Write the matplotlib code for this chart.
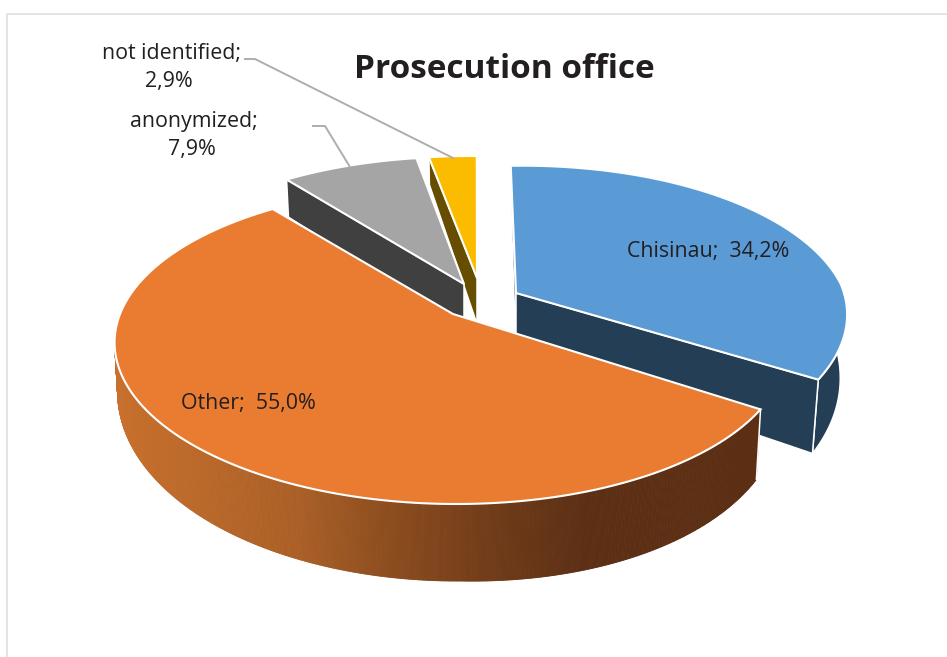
import numpy as np
import matplotlib
matplotlib.use("Agg")
import matplotlib.pyplot as plt
from matplotlib.patches import Polygon
from matplotlib.collections import PolyCollection

categories = ["Chisinau", "Other", "anonymized", "not identified"]
values = [34.2, 55.0, 7.9, 2.9]
title = "Prosecution office"

top_colors = ["#5B9BD5", "#EA7C32", "#A5A5A5", "#FBBC00"]
wall_colors = ["#233E55", None, "#404040", "#664D00"]
text_color = "#231F20"
FONT = "Open Sans"

# view geometry (pixels)
W, H = 947, 657
CX, CY = 453.0, 314.0
A, B, K, M = 328.0, 152.0, 0.196, 0.01
START = 1.0
OFFSET = [(63, -21), (0, 0), (11, -30), (24, -36)]
SCALE = [1.0, 1.005, 1.0, 0.96]
BACK_SKEW = [12.0, 6.0, 3.0, 6.0]
FRONT_SKEW = [0.0, 6.0, 6.0, 6.0]
LIFT = [9.0, 0.0, 0.0, 0.0]
DEPTH_CENTRE = [60.0, 37.0, 45.0, 46.0]
DEPTH_EXTRA = [4.0, 0.0, 12.0, 0.0]
FLOOR_SHIFT = [7.0, 5.0, 5.0, 5.0]

fig = plt.figure(figsize=(W / 100, H / 100), dpi=100, facecolor="white")
ax = fig.add_axes([0, 0, 1, 1])
ax.set_xlim(0, W)
ax.set_ylim(H, 0)
ax.axis("off")

# chart frame
ax.plot([7, 7, W], [H, 14, 14], color="#E2E2E2", lw=1.3, solid_capstyle="butt", zorder=0)


def rim(theta, i):
    t = np.radians(theta)
    c, s = np.cos(t), np.sin(t)
    w = 1 + K * c + M * s
    offset, sc = OFFSET[i], SCALE[i]
    skew = np.where(c > 0, BACK_SKEW[i], FRONT_SKEW[i])
    return (CX + offset[0] + sc * (A * s - skew * c) / w,
            CY + offset[1] - sc * (B * c + LIFT[i] * s) / w)


def rim_depth(theta):
    t = np.radians(theta)
    c, s = np.cos(t), np.sin(t)
    return np.where(c < 0, 42 - 35 * c + 10 * np.maximum(s, 0), 42 - 13 * c + 10 * s)


def floor(theta, i):
    x, y = rim(theta, i)
    s = np.sin(np.radians(theta))
    return x - np.where(s > 0, FLOOR_SHIFT[i], 3) * s, y + rim_depth(theta) + DEPTH_EXTRA[i]


def wall_gradient(x):
    stops = [117, 300, 390, 500, 585, 757]
    r = np.interp(x, stops, [200, 170, 140, 110, 92, 92])
    g = np.interp(x, stops, [112, 95, 76, 58, 47, 47])
    b = np.interp(x, stops, [45, 38, 30, 24, 20, 20])
    return np.column_stack([r, g, b]) / 255


shares = np.array(values) / sum(values) * 360
starts = START + np.concatenate([[0], np.cumsum(shares)[:-1]])
ends = starts + shares


def radial_wall(i, theta, z):
    off = OFFSET[i]
    ax_ = off[0] + CX, off[1] + CY
    rx, ry = rim(theta, i)
    fx, fy = floor(theta, i)
    ax.add_patch(Polygon([ax_, (rx, ry), (fx, fy), (ax_[0], ax_[1] + DEPTH_CENTRE[i])],
                         closed=True, facecolor=wall_colors[i], edgecolor="white",
                         lw=1.1, zorder=z, joinstyle="round"))


def outer_wall_solid(i, a0, a1, z):
    th = np.linspace(a0, a1, 80)
    rx, ry = rim(th, i)
    fx, fy = floor(th, i)
    pts = np.vstack([np.column_stack([rx, ry]), np.column_stack([fx, fy])[::-1]])
    ax.add_patch(Polygon(pts, closed=True, facecolor=wall_colors[i], edgecolor="white",
                         lw=1.1, zorder=z, joinstyle="round"))


def top(i, z):
    th = np.linspace(starts[i], ends[i], 160)
    rx, ry = rim(th, i)
    pts = np.vstack([[CX + OFFSET[i][0], CY + OFFSET[i][1]], np.column_stack([rx, ry])])
    ax.add_patch(Polygon(pts, closed=True, facecolor=top_colors[i], edgecolor="white",
                         lw=1.5, zorder=z, joinstyle="miter"))


# Chisinau
radial_wall(0, starts[0], 2)
outer_wall_solid(0, 85, ends[0], 2.1)
radial_wall(0, ends[0], 2.2)
top(0, 2.3)

# not identified
radial_wall(3, starts[3], 3)
top(3, 3.1)

# anonymized
radial_wall(2, starts[2], 4)
top(2, 4.1)

# Other: outer wall with a horizontal shading
th = np.linspace(starts[1], min(ends[1], 270), 500)
rx, ry = rim(th, 1)
fx, fy = floor(th, 1)
quads = [[(rx[j], ry[j]), (rx[j + 1], ry[j + 1]), (fx[j + 1], fy[j + 1]), (fx[j], fy[j])]
         for j in range(len(th) - 1)]
cols = wall_gradient((rx[:-1] + fx[:-1]) / 2)
ax.add_collection(PolyCollection(quads, facecolors=cols, edgecolors=cols, linewidths=0.6, zorder=5))
ax.plot(fx, fy, color="#E4E4E4", lw=0.8, zorder=4.9)
ax.plot([rx[0], fx[0]], [ry[0], fy[0]], color="white", lw=1.1, zorder=5.1)
top(1, 5.2)

# leader lines
lead = "#ADADAD"
ax.plot([245, 255, 453], [59, 59, 158], color=lead, lw=1.4, zorder=6)
ax.plot([313, 325, 350], [126, 126, 167], color=lead, lw=1.4, zorder=6)


def pct(v):
    return f"{v:.1f}".replace(".", ",") + "%"


fs = 15.4
txt = dict(family=FONT, color=text_color, fontsize=fs, ha="center", va="center", zorder=7)
ax.text(708, 251, f"{categories[0]};  {pct(values[0])}", **txt)
ax.text(248.5, 404, f"{categories[1]};  {pct(values[1])}", **txt)
ax.text(194, 121, f"{categories[2]};", **txt)
ax.text(192, 150, pct(values[2]), **txt)
ax.text(172, 53, f"{categories[3]};", **txt)
ax.text(169, 82, pct(values[3]), **txt)
ax.text(504, 70, title, family=FONT, color=text_color, fontsize=24, fontweight="bold",
        ha="center", va="center", zorder=7)

fig.savefig("out.png", dpi=100, facecolor="white")
